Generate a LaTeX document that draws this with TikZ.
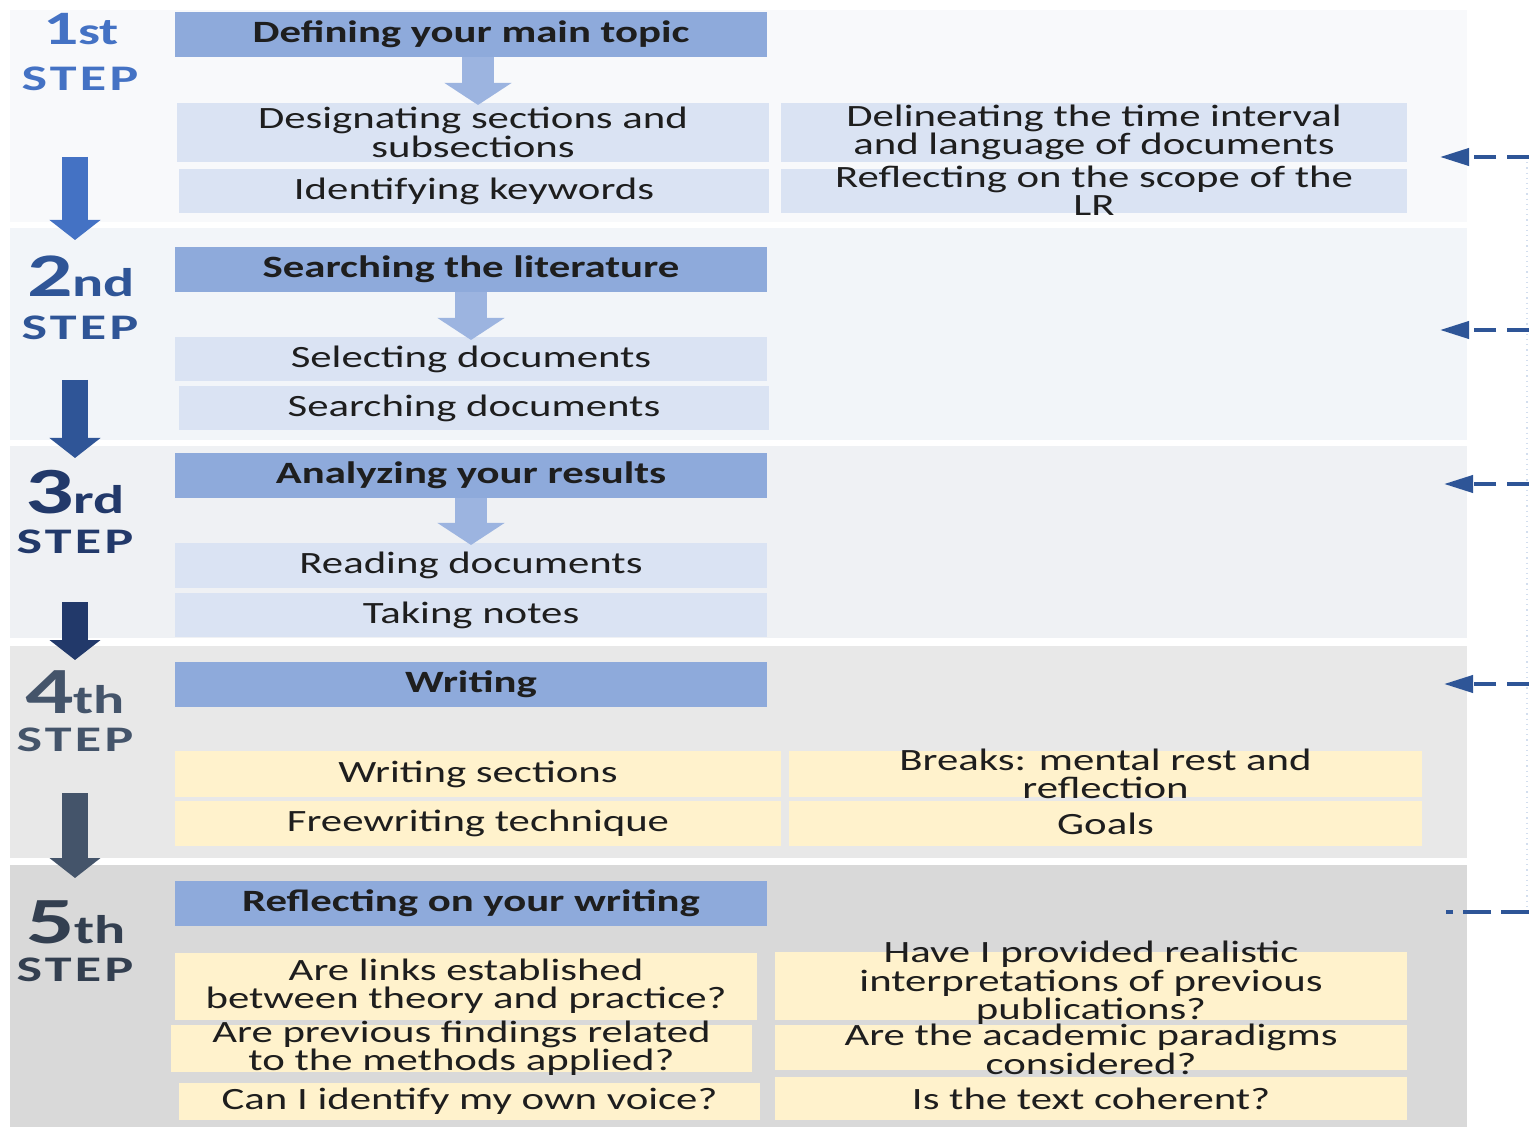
\documentclass[tikz,border=0pt]{standalone}
\usepackage{fontspec}
\setmainfont{Carlito}[FakeStretch=1.38]
\newfontfamily\labfont{Carlito}[FakeStretch=1.45]
\newfontfamily\stepfont{Carlito}[FakeStretch=1.5,LetterSpace=9]
\usetikzlibrary{arrows.meta}
\definecolor{hdrblue}{HTML}{8EAADB}
\definecolor{subblue}{HTML}{DAE3F3}
\definecolor{arrblue}{HTML}{9CB4E0}
\definecolor{yel}{HTML}{FFF2CC}
\definecolor{bandA}{HTML}{F8F9FB}
\definecolor{bandB}{HTML}{F2F5F9}
\definecolor{bandC}{HTML}{EFF1F4}
\definecolor{bandD}{HTML}{E8E8E8}
\definecolor{bandE}{HTML}{D9D9D9}
\definecolor{cA}{HTML}{4472C4}
\definecolor{cB}{HTML}{2F5597}
\definecolor{cC}{HTML}{22396A}
\definecolor{cD}{HTML}{44546A}
\definecolor{cE}{HTML}{333F50}
\definecolor{dash}{HTML}{2E5597}
\definecolor{faint}{HTML}{D3DEEE}
\definecolor{txt}{HTML}{1E1E1E}
% box node with its text inside
\newcommand\bx[7]{\node[#1, minimum width={(#5-#3)*0.5pt}, minimum height={(#6-#4)*0.5pt}] (#2) at ({(#3+#5)/2},{(#4+#6)/2}) {#7};}
% box node of fixed size, text in a separate node on top (text may overflow)
\newcommand\bxt[7]{\node[#1, minimum width={(#5-#3)*0.5pt}, minimum height={(#6-#4)*0.5pt}] (#2) at ({(#3+#5)/2},{(#4+#6)/2}) {};
  \node[base] (#2t) at (#2.center) {#7};}
\tikzset{
  base/.style={inner sep=0pt, outer sep=0pt, align=center, text=txt, font=\fontsize{15.5}{14.2}\selectfont},
  band/.style={inner sep=0pt, outer sep=0pt},
  hdr/.style={base, fill=hdrblue, font=\fontsize{15.5}{14.2}\selectfont\bfseries},
  sub/.style={inner sep=0pt, outer sep=0pt, fill=subblue},
  yb/.style={inner sep=0pt, outer sep=0pt, fill=yel},
  blockarr/.style={draw=arrblue, line width=16pt, -{Triangle[width=33pt,length=11pt]}},
  leftarr/.style={line width=13pt, -{Triangle[width=25pt,length=10pt]}},
  dasharr/.style={draw=dash, line width=2pt, dash pattern=on 11pt off 5.5pt, -{Triangle[width=8.5pt,length=14.5pt]}},
  dashline/.style={draw=dash, line width=2pt, dash pattern=on 14pt off 5pt},
  faintline/.style={draw=faint, line width=0.6pt, dotted},
  numlab/.style={inner sep=0pt, anchor=base, font=\labfont\bfseries},
  steplab/.style={inner sep=0pt, anchor=base, font=\stepfont\bfseries\fontsize{18}{18}\selectfont},
}
\begin{document}
\begin{tikzpicture}[x=0.5pt,y=-0.5pt]
\fill[white] (0,0) rectangle (1529,1127);
\useasboundingbox (0,0) rectangle (1529,1127);
% bands
\bx{band,fill=bandA}{b1}{10}{10}{1467}{222}{}
\bx{band,fill=bandB}{b2}{10}{228}{1467}{440}{}
\bx{band,fill=bandC}{b3}{10}{446}{1467}{638}{}
\bx{band,fill=bandD}{b4}{10}{646}{1467}{858}{}
\bx{band,fill=bandE}{b5}{10}{865}{1467}{1127}{}
% step 1
\bx{hdr}{h1}{175}{12}{767}{57}{Defining your main topic}
\bxt{sub}{s11}{177}{103}{769}{162}{Designating sections and\\subsections}
\bxt{sub}{s12}{179}{169}{769}{213}{Identifying keywords}
\bxt{sub}{s13}{781}{103}{1407}{162}{Delineating the time interval\\and language of documents}
\bxt{sub}{s14}{781}{169}{1407}{213}{Reflecting on the scope of the\\LR}
% step 2
\bx{hdr}{h2}{175}{247}{767}{292}{Searching the literature}
\bxt{sub}{s21}{175}{337}{767}{381}{Selecting documents}
\bxt{sub}{s22}{179}{386}{769}{430}{Searching documents}
% step 3
\bx{hdr}{h3}{175}{453}{767}{498}{Analyzing your results}
\bxt{sub}{s31}{175}{543}{767}{588}{Reading documents}
\bxt{sub}{s32}{175}{593}{767}{637}{Taking notes}
% step 4
\bx{hdr}{h4}{175}{662}{767}{707}{Writing}
\bxt{yb}{s41}{175}{751}{781}{797}{Writing sections}
\bxt{yb}{s42}{175}{801}{781}{846}{Freewriting technique}
\bxt{yb}{s43}{789}{751}{1422}{797}{Breaks: mental rest and\\reflection}
\bxt{yb}{s44}{789}{801}{1422}{846}{Goals}
% step 5
\bx{hdr}{h5}{175}{881}{767}{926}{Reflecting on your writing}
\bxt{yb}{s51}{175}{953}{757}{1020}{Are links established\\between theory and practice?}
\bxt{yb}{s52}{171}{1025}{752}{1072}{Are previous findings related\\to the methods applied?}
\bxt{yb}{s53}{179}{1083}{760}{1120}{Can I identify my own voice?}
\node[yb, minimum width=316pt, minimum height=34pt] (s54) at (1091,986) {};
\node[base] (s54t) at ([yshift=1.5pt]s54.center) {Have I provided realistic\\interpretations of previous\\publications?};
\node[yb, minimum width=316pt, minimum height=22.5pt] (s55) at (1091,1047.5) {};
\node[base] (s55t) at ([yshift=-1pt]s55.center) {Are the academic paradigms\\considered?};
\bxt{yb}{s56}{775}{1077}{1407}{1120}{Is the text coherent?}
% block arrows inside steps
\coordinate (t1) at (478,105);
\coordinate (t2) at (471,340);
\coordinate (t3) at (471,545);
\draw[blockarr] (h1.south -| t1) -- (t1);
\draw[blockarr] (h2.south -| t2) -- (t2);
\draw[blockarr] (h3.south -| t3) -- (t3);
% step labels
\node[numlab, text=cA] (n1) at (81,45) {{\fontsize{24}{24}\selectfont 1}{\fontsize{19}{19}\selectfont st}};
\node[steplab, text=cA] (p1) at (80,91) {STEP};
\node[numlab, text=cB] (n2) at (81,297) {{\fontsize{31}{31}\selectfont 2}{\fontsize{20}{20}\selectfont nd}};
\node[steplab, text=cB] (p2) at (80,340) {STEP};
\node[numlab, text=cC] (n3) at (75,514) {{\fontsize{33}{33}\selectfont 3}{\fontsize{20}{20}\selectfont rd}};
\node[steplab, text=cC] (p3) at (75,553) {STEP};
\node[numlab, text=cD] (n4) at (75,713) {{\fontsize{33}{33}\selectfont 4}{\fontsize{20}{20}\selectfont th}};
\node[steplab, text=cD] (p4) at (75,751) {STEP};
\node[numlab, text=cE] (n5) at (76,943) {{\fontsize{33}{33}\selectfont 5}{\fontsize{20}{20}\selectfont th}};
\node[steplab, text=cE] (p5) at (75,981) {STEP};
% left arrows between steps
\coordinate (la1) at (75,157); \coordinate (lb1) at (75,240);
\coordinate (la2) at (75,380); \coordinate (lb2) at (75,458);
\coordinate (la3) at (75,602); \coordinate (lb3) at (75,660);
\coordinate (la4) at (75,793); \coordinate (lb4) at (75,878);
\draw[leftarr, draw=cA] (la1) -- (lb1);
\draw[leftarr, draw=cB] (la2) -- (lb2);
\draw[leftarr, draw=cC] (la3) -- (lb3);
\draw[leftarr, draw=cD] (la4) -- (lb4);
% right dashed feedback arrows
\coordinate (r1) at (1529,157); \coordinate (q1) at (1440,157);
\coordinate (r2) at (1529,330); \coordinate (q2) at (1440,330);
\coordinate (r3) at (1529,484); \coordinate (q3) at (1444,484);
\coordinate (r4) at (1529,684); \coordinate (q4) at (1444,684);
\coordinate (r5) at (1529,912); \coordinate (q5) at (1446,912);
\coordinate (v1) at (1527,157); \coordinate (v5) at (1527,912);
\draw[faintline] (v1) -- (v5);
\draw[dasharr] (r1) -- (q1);
\draw[dasharr] (r2) -- (q2);
\draw[dasharr] (r3) -- (q3);
\draw[dasharr] (r4) -- (q4);
\draw[dashline] (r5) -- (q5);
\end{tikzpicture}
\end{document}
